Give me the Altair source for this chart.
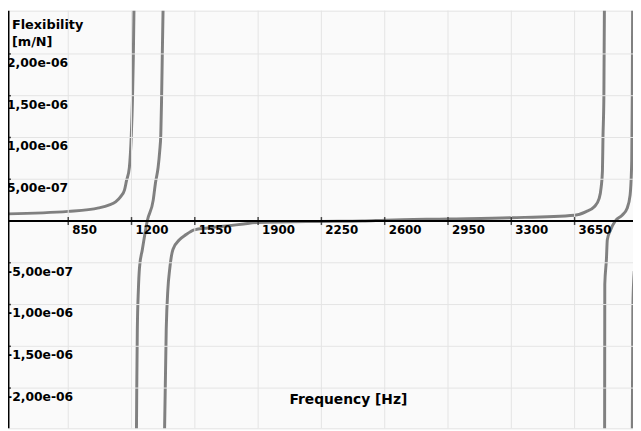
import altair as alt
import pandas as pd

# ---- data (frequency in Hz, flexibility in m/N) ----
b1_f = [505, 850, 1019, 1074, 1112, 1139, 1161, 1172, 1188, 1199, 1205, 1210, 1214]
b1_v = [8.5e-8, 1.15e-7, 1.57e-7, 1.9e-7, 2.3e-7, 2.9e-7, 3.7e-7, 4.8e-7, 6.4e-7, 1.04e-6, 1.43e-6, 1.96e-6, 2.6e-6]

b2_f = [1227, 1229, 1232, 1238, 1244, 1260, 1269, 1287, 1320, 1332, 1347, 1356, 1362, 1366, 1370, 1375]
b2_v = [-2.6e-6, -2.0e-6, -1.32e-6, -8.2e-7, -5.6e-7, -3.4e-7, -2.2e-7, 0.0, 2.5e-7, 4.5e-7, 6.4e-7, 8.4e-7, 1.04e-6, 1.43e-6, 1.96e-6, 2.6e-6]

b3_f = [1382, 1392, 1401, 1411, 1429, 1465, 1500, 1547, 1620, 1729, 1820, 1893, 2248, 2477, 2603,
        2952, 3296, 3651, 3711, 3759, 3786, 3797, 3804, 3807, 3812, 3815]
b3_v = [-2.6e-6, -1.29e-6, -8.2e-7, -5.8e-7, -3.4e-7, -2.25e-7, -1.65e-7, -1.06e-7, -8.3e-8, -5.9e-8,
        -3.5e-8, -1.8e-8, -5e-9, 0.0, 1.0e-8, 2.4e-8, 3.9e-8, 7e-8, 1.1e-7, 1.7e-7, 2.7e-7, 4.05e-7,
        6.0e-7, 1.0e-6, 1.5e-6, 2.6e-6]

b4_f = [3816, 3817, 3826, 3831, 3849, 3875, 3913, 3940, 3957, 3966, 3969, 3971]
b4_v = [-2.6e-6, -7.6e-7, -4.6e-7, -2.25e-7, -1.06e-7, 0.0, 7e-8, 1.5e-7, 3.1e-7, 7.2e-7, 1.5e-6, 2.6e-6]

b5_f = [3969, 3972, 3980]
b5_v = [-2.6e-6, -1.05e-6, -6e-7]

x_ticks = [850, 1200, 1550, 1900, 2250, 2600, 2950, 3300, 3650]
x_labels = ["850", "1200", "1550", "1900", "2250", "2600", "2950", "3300", "3650"]
y_ticks = [2e-6, 1.5e-6, 1e-6, 5e-7, -5e-7, -1e-6, -1.5e-6, -2e-6]
y_labels = ["2,00e-06", "1,50e-06", "1,00e-06", "5,00e-07",
            "-5,00e-07", "-1,00e-06", "-1,50e-06", "-2,00e-06"]

y_title = "Flexibility\n[m/N]"
x_title = "Frequency [Hz]"

# ---- tables ----
rows = []
for bi, (fs, vs) in enumerate([(b1_f, b1_v), (b2_f, b2_v), (b3_f, b3_v), (b4_f, b4_v), (b5_f, b5_v)]):
    for i, (f, v) in enumerate(zip(fs, vs)):
        rows.append({"f": f, "v": v, "branch": bi, "i": i})
curve_df = pd.DataFrame(rows)
xt_df = pd.DataFrame({"f": x_ticks, "label": x_labels, "zero": [0.0] * len(x_ticks)})
yt_df = pd.DataFrame({"v": y_ticks, "label": y_labels})
zero_df = pd.DataFrame({"v": [0.0]})

W, H = 633, 423
FONT = "DejaVu Sans"
xs = alt.Scale(domain=[517, 3973], nice=False, zero=False)
ys = alt.Scale(domain=[-2.482e-6, 2.518e-6], nice=False, zero=False)

curve = alt.Chart(curve_df).mark_line(
    color="#808080", strokeWidth=3, clip=True, interpolate="monotone"
).encode(
    x=alt.X("f:Q", scale=xs, axis=None),
    y=alt.Y("v:Q", scale=ys, axis=None),
    detail="branch:N",
    order="i:Q",
)

vgrid = alt.Chart(xt_df).mark_rule(color="#e4e4e4", strokeWidth=1).encode(
    x=alt.X("f:Q", scale=xs, axis=None)
)
hgrid = alt.Chart(yt_df).mark_rule(color="#e4e4e4", strokeWidth=1).encode(
    y=alt.Y("v:Q", scale=ys, axis=None)
)

zero_line = alt.Chart(zero_df).mark_rule(color="black", strokeWidth=2).encode(
    y=alt.Y("v:Q", scale=ys, axis=None)
)
y_axis_line = alt.Chart(zero_df).mark_rule(color="black", strokeWidth=3).encode(
    x=alt.value(0), y=alt.value(0), y2=alt.value(H)
)

x_tick_marks = alt.Chart(xt_df).mark_tick(orient="vertical", color="black", size=8, thickness=1.5).encode(
    x=alt.X("f:Q", scale=xs, axis=None),
    y=alt.Y("zero:Q", scale=ys, axis=None),
)
y_tick_marks = alt.Chart(yt_df).mark_tick(orient="horizontal", color="black", size=6, thickness=1.5).encode(
    x=alt.value(0),
    y=alt.Y("v:Q", scale=ys, axis=None),
)

x_text = alt.Chart(xt_df).mark_text(
    align="left", baseline="alphabetic", dx=4, dy=13, font=FONT, fontSize=12, fontWeight="bold", color="black"
).encode(
    x=alt.X("f:Q", scale=xs, axis=None),
    y=alt.Y("zero:Q", scale=ys, axis=None),
    text="label:N",
)
y_text = alt.Chart(yt_df).mark_text(
    align="left", baseline="alphabetic", dx=-1, dy=13, font=FONT, fontSize=12.5, fontWeight="bold", color="black"
).encode(
    x=alt.value(0),
    y=alt.Y("v:Q", scale=ys, axis=None),
    text="label:N",
)

ytitle = alt.Chart(zero_df).mark_text(
    align="left", baseline="alphabetic", font=FONT, fontSize=13, fontWeight="bold", color="black",
    lineBreak="\n", lineHeight=17, text=y_title,
).encode(x=alt.value(4), y=alt.value(19))

xtitle = alt.Chart(zero_df).mark_text(
    align="left", baseline="alphabetic", font=FONT, fontSize=14, fontWeight="bold", color="black",
    text=x_title,
).encode(x=alt.value(285), y=alt.value(398))

chart = alt.layer(
    curve, vgrid, hgrid, zero_line, y_axis_line, x_tick_marks, y_tick_marks, x_text, y_text, ytitle, xtitle
).properties(
    width=W, height=H, padding=0, autosize=alt.AutoSizeParams(type="none"), background="white"
).configure_view(fill="#fafafa", stroke="#e2e2e2")

chart.save("out.html", embed_options={"renderer": "svg", "actions": False})
